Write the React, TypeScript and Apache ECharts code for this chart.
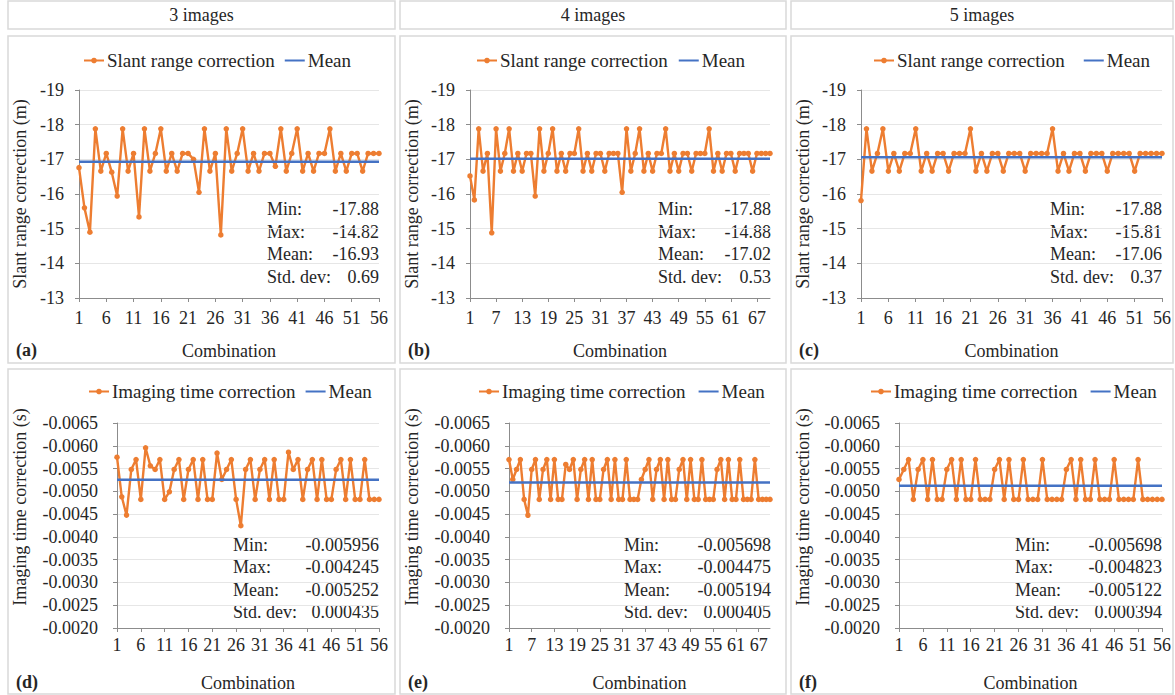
import React, { useEffect, useRef } from "react";
import * as echarts from "echarts";

// ---------- DATA ----------
const headers = ["3 images", "4 images", "5 images"];
const panelLetters = ["(a)", "(b)", "(c)", "(d)", "(e)", "(f)"];
const slantName = "Slant range correction";
const timeName = "Imaging time correction";
const meanName = "Mean";
const slantAxisTitle = "Slant range correction (m)";
const timeAxisTitle = "Imaging time correction (s)";
const xAxisTitle = "Combination";

const slant3 = [
  -16.76, -15.6, -14.9, -17.88, -16.66, -17.17, -16.63, -15.94, -17.88, -16.66,
  -17.17, -15.34, -17.88, -16.66, -17.17, -17.88, -16.66, -17.17, -16.66, -17.17,
  -17.17, -17.0, -16.05, -17.88, -16.66, -17.17, -14.82, -17.88, -16.66, -17.17,
  -17.88, -16.66, -17.17, -16.66, -17.17, -17.17, -16.8, -17.88, -16.66, -17.17,
  -17.88, -16.66, -17.17, -16.66, -17.17, -17.17, -17.88, -16.66, -17.17, -16.66,
  -17.17, -17.17, -16.66, -17.17, -17.17, -17.17,
];
const slant4 = [
  -16.52, -15.83, -17.88, -16.66, -17.17, -14.88, -17.88, -16.66, -17.17, -17.88,
  -16.66, -17.17, -16.66, -17.17, -17.17, -15.94, -17.88, -16.66, -17.17, -17.88,
  -16.66, -17.17, -16.66, -17.17, -17.17, -17.88, -16.66, -17.17, -16.66, -17.17,
  -17.17, -16.66, -17.17, -17.17, -17.17, -16.05, -17.88, -16.66, -17.17, -17.88,
  -16.66, -17.17, -16.66, -17.17, -17.17, -17.88, -16.66, -17.17, -16.66, -17.17,
  -17.17, -16.66, -17.17, -17.17, -17.17, -17.88, -16.66, -17.17, -16.66, -17.17,
  -17.17, -16.66, -17.17, -17.17, -17.17, -16.66, -17.17, -17.17, -17.17, -17.17,
];
const slant5 = [
  -15.81, -17.88, -16.66, -17.17, -17.88, -16.66, -17.17, -16.66, -17.17, -17.17,
  -17.88, -16.66, -17.17, -16.66, -17.17, -17.17, -16.66, -17.17, -17.17, -17.17,
  -17.88, -16.66, -17.17, -16.66, -17.17, -17.17, -16.66, -17.17, -17.17, -17.17,
  -16.66, -17.17, -17.17, -17.17, -17.17, -17.88, -16.66, -17.17, -16.66, -17.17,
  -17.17, -16.66, -17.17, -17.17, -17.17, -16.66, -17.17, -17.17, -17.17, -17.17,
  -16.66, -17.17, -17.17, -17.17, -17.17, -17.17,
];
const time3 = [
  -0.00575, -0.00488, -0.004478, -0.00548, -0.005698, -0.004823, -0.005956, -0.00556, -0.00548, -0.005698,
  -0.004823, -0.00499, -0.00548, -0.005698, -0.004823, -0.00548, -0.005698, -0.004823, -0.005698, -0.004823,
  -0.004823, -0.00584, -0.00526, -0.00548, -0.005698, -0.004823, -0.004245, -0.00548, -0.005698, -0.004823,
  -0.00548, -0.005698, -0.004823, -0.005698, -0.004823, -0.004823, -0.00586, -0.00548, -0.005698, -0.004823,
  -0.00548, -0.005698, -0.004823, -0.005698, -0.004823, -0.004823, -0.00548, -0.005698, -0.004823, -0.005698,
  -0.004823, -0.004823, -0.005698, -0.004823, -0.004823, -0.004823,
];
const time4 = [
  -0.005698, -0.00526, -0.00548, -0.005698, -0.004823, -0.004475, -0.00548, -0.005698, -0.004823, -0.00548,
  -0.005698, -0.004823, -0.005698, -0.004823, -0.004823, -0.00559, -0.00548, -0.005698, -0.004823, -0.00548,
  -0.005698, -0.004823, -0.005698, -0.004823, -0.004823, -0.00548, -0.005698, -0.004823, -0.005698, -0.004823,
  -0.004823, -0.005698, -0.004823, -0.004823, -0.004823, -0.00526, -0.00548, -0.005698, -0.004823, -0.00548,
  -0.005698, -0.004823, -0.005698, -0.004823, -0.004823, -0.00548, -0.005698, -0.004823, -0.005698, -0.004823,
  -0.004823, -0.005698, -0.004823, -0.004823, -0.004823, -0.00548, -0.005698, -0.004823, -0.005698, -0.004823,
  -0.004823, -0.005698, -0.004823, -0.004823, -0.004823, -0.005698, -0.004823, -0.004823, -0.004823, -0.004823,
];
const time5 = [
  -0.00526, -0.00548, -0.005698, -0.004823, -0.00548, -0.005698, -0.004823, -0.005698, -0.004823, -0.004823,
  -0.00548, -0.005698, -0.004823, -0.005698, -0.004823, -0.004823, -0.005698, -0.004823, -0.004823, -0.004823,
  -0.00548, -0.005698, -0.004823, -0.005698, -0.004823, -0.004823, -0.005698, -0.004823, -0.004823, -0.004823,
  -0.005698, -0.004823, -0.004823, -0.004823, -0.004823, -0.00548, -0.005698, -0.004823, -0.005698, -0.004823,
  -0.004823, -0.005698, -0.004823, -0.004823, -0.004823, -0.005698, -0.004823, -0.004823, -0.004823, -0.004823,
  -0.005698, -0.004823, -0.004823, -0.004823, -0.004823, -0.004823,
];

const means = [-16.93, -17.02, -17.06, -0.005252, -0.005194, -0.005122];
const statLabels = ["Min:", "Max:", "Mean:", "Std. dev:"];
const statValues = [
  ["-17.88", "-14.82", "-16.93", "0.69"],
  ["-17.88", "-14.88", "-17.02", "0.53"],
  ["-17.88", "-15.81", "-17.06", "0.37"],
  ["-0.005956", "-0.004245", "-0.005252", "0.000435"],
  ["-0.005698", "-0.004475", "-0.005194", "0.000405"],
  ["-0.005698", "-0.004823", "-0.005122", "0.000394"],
];
const slantTicks = { min: -19, max: -13, interval: 1 };
const timeTicks = { min: -0.0065, max: -0.002, interval: 0.0005 };

// ---------- LAYOUT ----------
const FONT = "'Liberation Serif', 'Times New Roman', serif";
const TXT = "#262626";
const ORANGE = "#ED7D31";
const BLUE = "#4472C4";
const BORDER = "#d9d9d9";

const seriesData = [slant3, slant4, slant5, time3, time4, time5];
const colBox = [
  { x: 8, w: 387 },
  { x: 400, w: 386 },
  { x: 791, w: 382 },
];
const grids = [
  { left: 79, top: 90, width: 300, height: 208 },
  { left: 470, top: 90, width: 300, height: 208 },
  { left: 861, top: 90, width: 301, height: 208 },
  { left: 117, top: 423, width: 262, height: 205 },
  { left: 509, top: 423, width: 261, height: 205 },
  { left: 899, top: 423, width: 263, height: 205 },
];
const legendLeft = [83, 476, 873, 88, 478, 870];
const legendGap = [9, 10, 18, 9, 12, 12];
const yTitleCenterY = [194, 507];
const statLeft = [267, 658, 1050, 233, 624, 1015];
const statRight = [379, 771, 1162, 379, 771, 1162];
const statRowY = [
  [209, 232, 254, 277],
  [545, 567, 590, 612],
];

export default function App() {
  const ref = useRef<HTMLDivElement>(null);
  useEffect(() => {
    if (!ref.current) return;
    const chart = echarts.init(ref.current, null, { renderer: "svg" });

    const xAxes: any[] = [];
    const yAxes: any[] = [];
    const series: any[] = [];
    const legends: any[] = [];
    const graphics: any[] = [];

    seriesData.forEach((data, i) => {
      const top = i < 3;
      const n = data.length;
      const cats = Array.from({ length: n }, (_, k) => String(k + 1));
      const step = n === 70 ? 6 : 5;
      const showIdx = (idx: number) => idx % step === 0;
      xAxes.push({
        type: "category",
        gridIndex: i,
        data: cats,
        boundaryGap: false,
        name: xAxisTitle,
        nameLocation: "middle",
        nameGap: top ? 44 : 46,
        nameTextStyle: { fontFamily: FONT, fontSize: 18, color: TXT },
        axisLine: { onZero: false, lineStyle: { color: "#8c8c8c", width: 1 } },
        axisTick: { show: true, interval: showIdx, length: 4, lineStyle: { color: "#8c8c8c" } },
        axisLabel: {
          interval: showIdx,
          fontFamily: FONT,
          fontSize: 18,
          color: TXT,
          margin: top ? 11 : 8,
        },
        splitLine: { show: false },
      });
      const t = top ? slantTicks : timeTicks;
      yAxes.push({
        type: "value",
        gridIndex: i,
        inverse: true,
        min: t.min,
        max: t.max,
        interval: t.interval,
        axisLine: { show: true, lineStyle: { color: "#8c8c8c", width: 1 } },
        axisTick: { show: true, length: 4, lineStyle: { color: "#8c8c8c" } },
        axisLabel: {
          fontFamily: FONT,
          fontSize: 18,
          color: TXT,
          margin: top ? 15 : 19,
          formatter: (v: number) => (top ? String(Math.round(v)) : v.toFixed(4)),
        },
        splitLine: { show: true, lineStyle: { color: "#e6e6e6", width: 1 } },
      });
      series.push({
        type: "line",
        name: top ? slantName : timeName,
        xAxisIndex: i,
        yAxisIndex: i,
        data,
        symbol: "circle",
        symbolSize: 5.5,
        showAllSymbol: true,
        color: ORANGE,
        itemStyle: { color: ORANGE },
        lineStyle: { color: ORANGE, width: 2.4 },
        z: 2,
      });
      series.push({
        type: "line",
        name: meanName,
        xAxisIndex: i,
        yAxisIndex: i,
        data: cats.map(() => means[i]),
        symbol: "none",
        color: BLUE,
        lineStyle: { color: BLUE, width: 2.5 },
        z: 3,
      });
      legends.push({
        left: legendLeft[i],
        top: top ? 51 : 382,
        padding: 0,
        itemWidth: 20,
        itemHeight: 7,
        itemGap: legendGap[i],
        data: [
          { name: top ? slantName : timeName },
          { name: meanName, itemStyle: { opacity: 0 } },
        ],
        textStyle: { fontFamily: FONT, fontSize: 19, color: TXT, padding: [0, 0, 0, -2] },
      });

      // y-axis title
      const col = colBox[i % 3];
      graphics.push({
        type: "text",
        x: col.x + 12,
        y: yTitleCenterY[top ? 0 : 1],
        rotation: Math.PI / 2,
        style: {
          text: top ? slantAxisTitle : timeAxisTitle,
          fontFamily: FONT,
          fontSize: 18,
          fill: TXT,
          align: "center",
          verticalAlign: "middle",
        },
      });

      // stats box
      statLabels.forEach((lab, r) => {
        const y = statRowY[top ? 0 : 1][r];
        graphics.push({
          type: "text",
          x: statLeft[i],
          y,
          style: { text: lab, fontFamily: FONT, fontSize: 18, fill: TXT, align: "left", verticalAlign: "middle" },
        });
        graphics.push({
          type: "text",
          x: statRight[i],
          y,
          style: { text: statValues[i][r], fontFamily: FONT, fontSize: 18, fill: TXT, align: "right", verticalAlign: "middle" },
        });
      });

      // panel border and letter
      graphics.push({
        type: "rect",
        shape: { x: col.x, y: top ? 36 : 369, width: col.w, height: top ? 327 : 325 },
        style: { fill: "none", stroke: BORDER, lineWidth: 1.5 },
        z: -1,
      });
      graphics.push({
        type: "text",
        x: col.x + 8,
        y: top ? 350 : 682,
        style: { text: panelLetters[i], fontFamily: FONT, fontSize: 18, fontWeight: "bold", fill: TXT, verticalAlign: "middle" },
      });
    });

    headers.forEach((h, c) => {
      const col = colBox[c];
      graphics.push({
        type: "rect",
        shape: { x: col.x, y: 1, width: col.w, height: 28 },
        style: { fill: "none", stroke: BORDER, lineWidth: 1.5 },
        z: -1,
      });
      graphics.push({
        type: "text",
        x: col.x + col.w / 2,
        y: 15,
        style: { text: h, fontFamily: FONT, fontSize: 18, fill: TXT, align: "center", verticalAlign: "middle" },
      });
    });

    chart.setOption({
      animation: false,
      backgroundColor: "#ffffff",
      textStyle: { fontFamily: FONT },
      grid: grids.map((g) => ({ ...g, containLabel: false })),
      xAxis: xAxes,
      yAxis: yAxes,
      legend: legends,
      series,
      graphic: graphics,
    });
    return () => chart.dispose();
  }, []);
  return (
    <div
      ref={ref}
      style={{ position: "absolute", left: 0, top: 0, width: 1175, height: 695, background: "#fff" }}
    />
  );
}
